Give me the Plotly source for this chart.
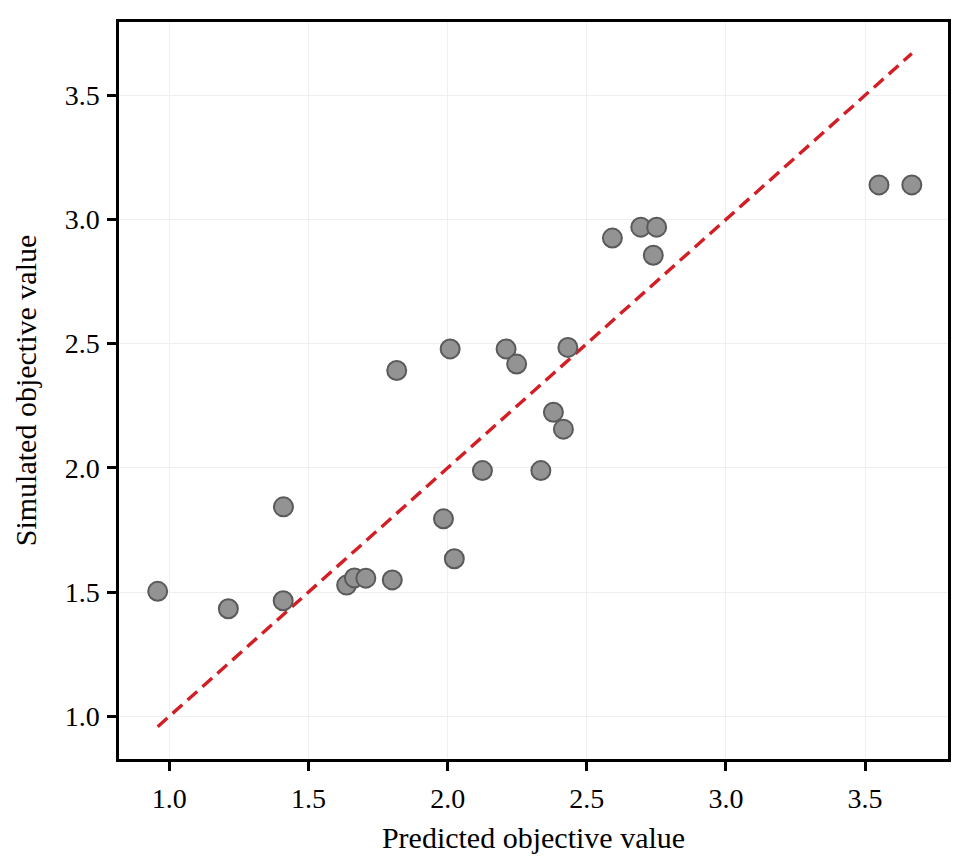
import plotly.graph_objects as go

predicted = [0.958, 1.212, 1.410, 1.409, 1.637, 1.665, 1.706, 1.801, 1.817, 1.985,
             2.024, 2.009, 2.210, 2.248, 2.432, 2.380, 2.416, 2.125, 2.335, 2.592,
             2.694, 2.751, 2.739, 3.550, 3.668]
simulated = [1.503, 1.433, 1.843, 1.465, 1.528, 1.557, 1.556, 1.549, 2.392, 1.795,
             1.634, 2.479, 2.479, 2.418, 2.485, 2.224, 2.156, 1.989, 1.989, 2.925,
             2.969, 2.969, 2.856, 3.139, 3.139]
tick_vals = [1.0, 1.5, 2.0, 2.5, 3.0, 3.5]
tick_text = ["1.0", "1.5", "2.0", "2.5", "3.0", "3.5"]

lo = min(predicted)
hi = max(predicted)

fig = go.Figure()
fig.add_trace(go.Scatter(
    x=[lo, hi], y=[lo, hi], mode="lines",
    line=dict(color="#d21f26", width=3.4, dash="13px,7px"),
    hoverinfo="skip", showlegend=False,
))
fig.add_trace(go.Scatter(
    x=predicted, y=simulated, mode="markers",
    marker=dict(size=19, color="#939393", line=dict(color="#5a5a5a", width=2)),
    showlegend=False,
))

axis_common = dict(
    showline=True, linecolor="black", linewidth=2.5, mirror=True,
    ticks="outside", ticklen=9, tickwidth=2.5, tickcolor="black",
    showgrid=True, gridcolor="#efefef", gridwidth=1,
    zeroline=False, tickvals=tick_vals, ticktext=tick_text,
    tickfont=dict(family="Liberation Serif", size=28, color="black"),
)

fig.update_layout(
    width=958, height=860,
    margin=dict(l=111, r=18, t=11, b=109),
    paper_bgcolor="white", plot_bgcolor="white",
    font=dict(family="Liberation Serif", color="black"),
    xaxis=dict(range=[0.819, 3.798], ticklabelstandoff=4,
               title=dict(text="Predicted objective value",
                          font=dict(family="Liberation Serif", size=30), standoff=14),
               **axis_common),
    yaxis=dict(range=[0.828, 3.795], ticklabelstandoff=2,
               title=dict(text="Simulated objective value",
                          font=dict(family="Liberation Serif", size=30), standoff=20),
               **axis_common),
)

fig.write_html("out.html")
